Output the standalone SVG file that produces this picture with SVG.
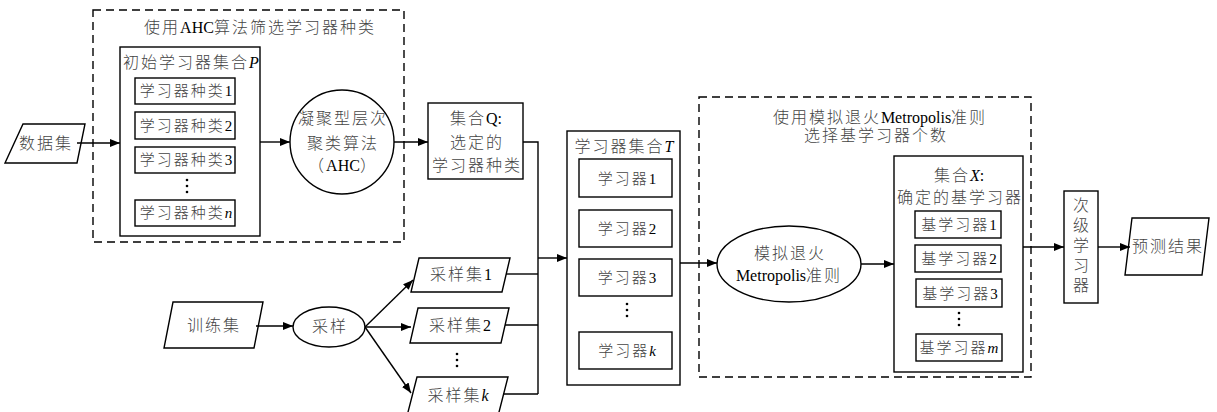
<svg xmlns="http://www.w3.org/2000/svg" width="1217" height="412" viewBox="0 0 1217 412">
  <defs>
    <marker id="arrow" viewBox="0 0 10 8" refX="10" refY="4" markerWidth="10" markerHeight="8" markerUnits="userSpaceOnUse" orient="auto">
      <path d="M0,0 L10,4 L0,8 Z" fill="#000"/>
    </marker>
  </defs>
  <style>
    .box { fill: #fff; stroke: #000; stroke-width: 1.4; }
    .dash { fill: none; stroke: #000; stroke-width: 1.4; stroke-dasharray: 8 5; }
    .line { fill: none; stroke: #000; stroke-width: 1.4; }
    .arr { fill: none; stroke: #000; stroke-width: 1.4; marker-end: url(#arrow); }
    text { font-family: "Liberation Serif", "Noto Sans CJK SC", serif; font-size: 16px; fill: #444; letter-spacing: 2px; text-anchor: middle; font-weight: 300; }
    .s { font-size: 15px; }
    .lat { fill: #000; letter-spacing: 0; font-weight: 400; }
    .it { font-style: italic; }
    .dot { fill: #000; }
  </style>

  <!-- stage 1: AHC selection of learner types -->
  <g id="ahc-stage">
    <rect class="dash" x="93" y="10" width="311" height="232"/>
    <text x="260" y="33">使用<tspan class="lat">AHC</tspan>算法筛选学习器种类</text>
  </g>

  <g id="dataset">
    <polygon class="box" points="23,124 85,124 77,163 5,163"/>
    <text x="46" y="149">数据集</text>
  </g>

  <g id="set-p">
    <rect class="box" x="120" y="47" width="140" height="189"/>
    <text x="191" y="68">初始学习器集合<tspan class="lat it">P</tspan></text>
    <rect class="box" x="135" y="78" width="100" height="26"/>
    <text class="s" x="186" y="96">学习器种类<tspan class="lat">1</tspan></text>
    <rect class="box" x="135" y="112" width="100" height="27"/>
    <text class="s" x="186" y="131">学习器种类<tspan class="lat">2</tspan></text>
    <rect class="box" x="135" y="147" width="100" height="26"/>
    <text class="s" x="186" y="165">学习器种类<tspan class="lat">3</tspan></text>
    <circle class="dot" cx="187" cy="180" r="1.3"/>
    <circle class="dot" cx="187" cy="186" r="1.3"/>
    <circle class="dot" cx="187" cy="192" r="1.3"/>
    <rect class="box" x="135" y="200" width="100" height="26"/>
    <text class="s" x="186" y="218">学习器种类<tspan class="lat it">n</tspan></text>
  </g>

  <g id="ahc">
    <circle class="box" cx="342" cy="142" r="52"/>
    <text x="343" y="124">凝聚型层次</text>
    <text x="343" y="149">聚类算法</text>
    <text x="343" y="171">（<tspan class="lat">AHC</tspan>）</text>
  </g>

  <g id="set-q">
    <rect class="box" x="428" y="103" width="95" height="76"/>
    <text x="476" y="124">集合<tspan class="lat">Q:</tspan></text>
    <text x="477" y="148">选定的</text>
    <text x="477" y="171">学习器种类</text>
  </g>

  <!-- sampling branch -->
  <g id="train-set">
    <polygon class="box" points="173,302 263,302 254,348 164,348"/>
    <text x="214" y="331">训练集</text>
  </g>

  <g id="sampling">
    <ellipse class="box" cx="329" cy="327" rx="36" ry="20"/>
    <text x="330" y="332">采样</text>
  </g>

  <g id="sample-1">
    <polygon class="box" points="419,258 510,258 502,292 411,292"/>
    <text x="461" y="280">采样集<tspan class="lat">1</tspan></text>
  </g>

  <g id="sample-2">
    <polygon class="box" points="418,308 509,308 501,343 410,343"/>
    <text x="460" y="331">采样集<tspan class="lat">2</tspan></text>
  </g>

  <g id="sample-dots">
    <circle class="dot" cx="457" cy="354" r="1.3"/>
    <circle class="dot" cx="457" cy="360" r="1.3"/>
    <circle class="dot" cx="457" cy="366" r="1.3"/>
  </g>

  <g id="sample-k">
    <polygon class="box" points="417,377 508,377 498,416 407,416"/>
    <text x="458" y="401">采样集<tspan class="lat it">k</tspan></text>
  </g>

  <g id="set-t">
    <rect class="box" x="567" y="131" width="113" height="254"/>
    <text x="624" y="152">学习器集合<tspan class="lat it">T</tspan></text>
    <rect class="box" x="579" y="159" width="93" height="38"/>
    <text class="s" x="627" y="184">学习器<tspan class="lat">1</tspan></text>
    <rect class="box" x="579" y="210" width="93" height="37"/>
    <text class="s" x="627" y="234">学习器<tspan class="lat">2</tspan></text>
    <rect class="box" x="579" y="259" width="93" height="37"/>
    <text class="s" x="627" y="283">学习器<tspan class="lat">3</tspan></text>
    <circle class="dot" cx="627" cy="304" r="1.3"/>
    <circle class="dot" cx="627" cy="310" r="1.3"/>
    <circle class="dot" cx="627" cy="316" r="1.3"/>
    <rect class="box" x="579" y="332" width="93" height="37"/>
    <text class="s" x="627" y="356">学习器<tspan class="lat it">k</tspan></text>
  </g>

  <!-- stage 2: simulated annealing selection -->
  <g id="sa-stage">
    <rect class="dash" x="699" y="97" width="332" height="280"/>
    <text x="880" y="123">使用模拟退火<tspan class="lat">Metropolis</tspan>准则</text>
    <text x="876" y="141">选择基学习器个数</text>
  </g>

  <g id="metropolis">
    <ellipse class="box" cx="789" cy="264" rx="72" ry="38"/>
    <text x="790" y="259">模拟退火</text>
    <text x="789" y="281"><tspan class="lat">Metropolis</tspan>准则</text>
  </g>

  <g id="set-x">
    <rect class="box" x="894" y="156" width="129" height="216"/>
    <text x="959" y="181">集合<tspan class="lat it">X</tspan><tspan class="lat">:</tspan></text>
    <text x="960" y="203">确定的基学习器</text>
    <rect class="box" x="915" y="211" width="86" height="27"/>
    <text class="s" x="959" y="230">基学习器<tspan class="lat">1</tspan></text>
    <rect class="box" x="915" y="245" width="86" height="27"/>
    <text class="s" x="959" y="264">基学习器<tspan class="lat">2</tspan></text>
    <rect class="box" x="916" y="279" width="86" height="28"/>
    <text class="s" x="960" y="299">基学习器<tspan class="lat">3</tspan></text>
    <circle class="dot" cx="959" cy="313" r="1.3"/>
    <circle class="dot" cx="959" cy="319" r="1.3"/>
    <circle class="dot" cx="959" cy="325" r="1.3"/>
    <rect class="box" x="916" y="334" width="86" height="27"/>
    <text class="s" x="959" y="353">基学习器<tspan class="lat it">m</tspan></text>
  </g>

  <g id="meta-learner">
    <rect class="box" x="1064" y="191" width="34" height="112"/>
    <text x="1082" y="211">次</text>
    <text x="1082" y="231">级</text>
    <text x="1082" y="251">学</text>
    <text x="1082" y="271">习</text>
    <text x="1082" y="291">器</text>
  </g>

  <g id="result">
    <polygon class="box" points="1132,218 1209,218 1202,275 1125,275"/>
    <text x="1168" y="252">预测结果</text>
  </g>

  <!-- connectors -->
  <g id="connectors">
    <path class="arr" d="M77,143 L120,143"/>
    <path class="arr" d="M260,142 L290,142"/>
    <path class="arr" d="M394,142 L428,142"/>
    <path class="line" d="M523,142 L538,142 L538,394"/>
    <path class="line" d="M506,274 L538,274"/>
    <path class="line" d="M505,325 L538,325"/>
    <path class="line" d="M503,394 L538,394"/>
    <path class="arr" d="M538,258 L567,258"/>
    <path class="arr" d="M256,326 L293,326"/>
    <path class="arr" d="M365,327 L413,280"/>
    <path class="arr" d="M365,327 L411,327"/>
    <path class="arr" d="M365,327 L411,393"/>
    <path class="arr" d="M680,263 L717,263"/>
    <path class="arr" d="M861,264 L894,264"/>
    <path class="arr" d="M1023,247 L1064,247"/>
    <path class="arr" d="M1098,247 L1130,247"/>
  </g>
</svg>
